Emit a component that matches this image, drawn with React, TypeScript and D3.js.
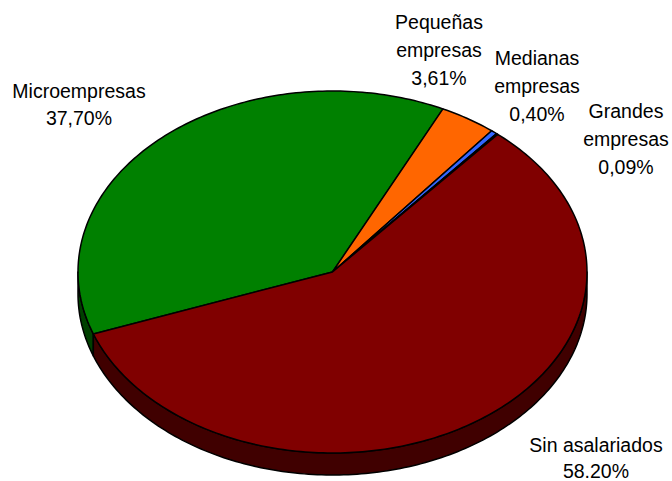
import { useEffect, useRef } from 'react'
import * as d3 from 'd3'

// data
const categories = ['Microempresas', 'Pequeñas empresas', 'Medianas empresas', 'Grandes empresas', 'Sin asalariados']
const nameLines = [['Microempresas'], ['Pequeñas', 'empresas'], ['Medianas', 'empresas'], ['Grandes', 'empresas'], ['Sin asalariados']]
const values = [37.7, 3.61, 0.4, 0.09, 58.2]
const valueLabels = ['37,70%', '3,61%', '0,40%', '0,09%', '58.20%']
const topColors = ['#008000', '#FF6600', '#3366FF', '#FFFF99', '#800000']
const sideColors = ['#004000', '#803300', '#1a3380', '#80804d', '#400000']

export default function App() {
  const svgRef = useRef<SVGSVGElement | null>(null)

  useEffect(() => {
    if (!svgRef.current) return

    const width = 672
    const height = 481
    const cx = 332.5
    const cy = 272
    const rx = 254.5
    const ry = 181
    const depth = 22

    const svg = d3.select(svgRef.current).attr('width', width).attr('height', height)
    svg.selectAll('*').remove()

    const start = (-110 * Math.PI) / 180
    const pie = d3
      .pie<number>()
      .sort(null)
      .startAngle(start)
      .endAngle(start + 2 * Math.PI)
    const arcs = pie(values)

    // d3 angle convention: 0 at 12 o'clock, clockwise
    const pt = (a: number, dy = 0): [number, number] => [cx + rx * Math.sin(a), cy - ry * Math.cos(a) + dy]
    const line = d3.line()

    const sample = (a0: number, a1: number) => {
      const n = Math.max(2, Math.ceil(((a1 - a0) * 180) / Math.PI))
      return d3.range(n + 1).map(i => a0 + ((a1 - a0) * i) / n)
    }

    // side walls, visible only on the front half (pi/2 .. 3pi/2)
    const sides = svg.append('g')
    arcs.forEach((d, i) => {
      ;[0, -2 * Math.PI, 2 * Math.PI].forEach(shift => {
        const lo = Math.max(d.startAngle, Math.PI / 2 + shift)
        const hi = Math.min(d.endAngle, (3 * Math.PI) / 2 + shift)
        if (hi <= lo) return
        const angs = sample(lo, hi)
        const pts = [...angs.map(a => pt(a)), ...angs.reverse().map(a => pt(a, depth))]
        sides
          .append('path')
          .attr('d', line(pts) + 'Z')
          .attr('fill', sideColors[i])
          .attr('stroke', '#000')
          .attr('stroke-width', 1.5)
          .attr('stroke-linejoin', 'round')
      })
    })

    // top faces
    const tops = svg.append('g')
    arcs.forEach((d, i) => {
      const pts = [[cx, cy] as [number, number], ...sample(d.startAngle, d.endAngle).map(a => pt(a))]
      tops
        .append('path')
        .attr('d', line(pts) + 'Z')
        .attr('fill', topColors[i])
        .attr('stroke', '#000')
        .attr('stroke-width', 1.5)
        .attr('stroke-linejoin', 'round')
        .append('title')
        .text(categories[i])
    })

    // label layout (center x, first baseline)
    const labelPos = [
      [79, 98],
      [439, 29],
      [537, 65],
      [626, 118],
      [596, 452],
    ]
    const lineGap = [27, 28, 28, 28, 26]

    const labels = svg.append('g').style('font-family', '"Liberation Sans", Arial, sans-serif').style('font-size', '19.5px')
    nameLines.forEach((lines, i) => {
      const t = labels
        .append('text')
        .attr('text-anchor', 'middle')
        .attr('x', labelPos[i][0])
        .attr('y', labelPos[i][1])
        .attr('fill', '#000')
      ;[...lines, valueLabels[i]].forEach((s, j) => {
        t.append('tspan')
          .attr('x', labelPos[i][0])
          .attr('dy', j === 0 ? 0 : lineGap[i])
          .text(s)
      })
    })
  }, [])

  return <svg ref={svgRef} style={{ position: 'absolute', left: 0, top: 0, background: '#fff' }}></svg>
}
